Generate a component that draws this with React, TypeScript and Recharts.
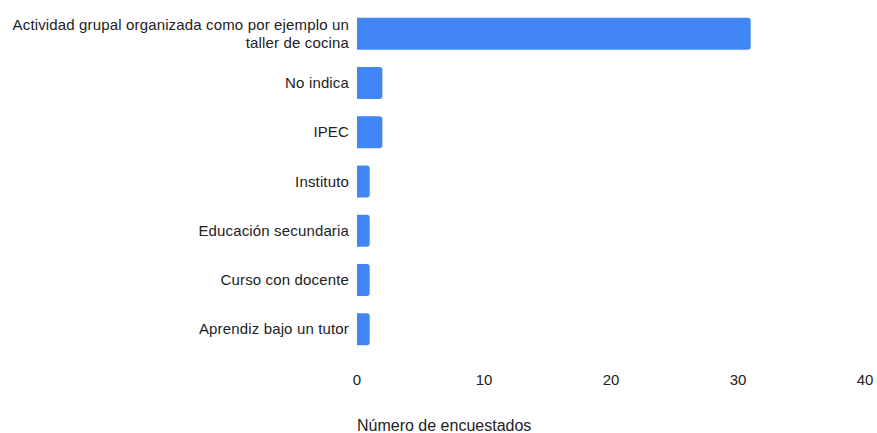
import React from "react";
import { BarChart, Bar, XAxis, YAxis, Label } from "recharts";

const categories = [
  "Actividad grupal organizada como por ejemplo un|taller de cocina",
  "No indica",
  "IPEC",
  "Instituto",
  "Educación secundaria",
  "Curso con docente",
  "Aprendiz bajo un tutor",
];
const counts = [31, 2, 2, 1, 1, 1, 1];
const xTicks = [0, 10, 20, 30, 40];
const xTitle = "Número de encuestados";

const data = categories.map((c, i) => ({ name: c, value: counts[i] }));

const FONT = "Arial, 'Liberation Sans', sans-serif";
const TEXT = "#222222";

const YTick = (props: any) => {
  const { x, y, payload } = props;
  const lines = String(payload.value).split("|");
  const lh = 18;
  const start = -((lines.length - 1) * lh) / 2;
  return (
    <text
      x={x}
      y={y}
      textAnchor="end"
      fill={TEXT}
      fontSize={15}
      fontFamily={FONT}
      letterSpacing={0.15}
    >
      {lines.map((l, i) => (
        <tspan key={i} x={x} dy={i === 0 ? start + 5 : lh}>
          {l}
        </tspan>
      ))}
    </text>
  );
};

const XTick = (props: any) => {
  const { x, y, payload } = props;
  return (
    <text x={x} y={y} textAnchor="middle" fill={TEXT} fontSize={15} fontFamily={FONT}>
      {payload.value}
    </text>
  );
};

export default function App() {
  return (
    <div style={{ position: "absolute", left: 0, top: 0, background: "#fff" }}>
      <BarChart
        width={877}
        height={433}
        data={data}
        layout="vertical"
        margin={{ top: 9, right: 12, bottom: 0, left: 0 }}
        barCategoryGap="17.5%"
      >
        <XAxis
          type="number"
          domain={[0, 40]}
          ticks={xTicks}
          axisLine={false}
          tickLine={false}
          tickSize={0}
          tickMargin={31}
          height={79}
          tick={<XTick />}
        >
          <Label
            content={(p: any) => {
              const vb = p.viewBox;
              return (
                <text x={vb.x} y={vb.y + 77} fill={TEXT} fontSize={16} fontFamily={FONT}>
                  {xTitle}
                </text>
              );
            }}
          />
        </XAxis>
        <YAxis
          type="category"
          dataKey="name"
          width={357}
          axisLine={false}
          tickLine={false}
          tickSize={0}
          tickMargin={8}
          tick={<YTick />}
          interval={0}
        />
        <Bar dataKey="value" fill="#4285F4" radius={[0, 3, 3, 0]} isAnimationActive={false} />
      </BarChart>
    </div>
  );
}
